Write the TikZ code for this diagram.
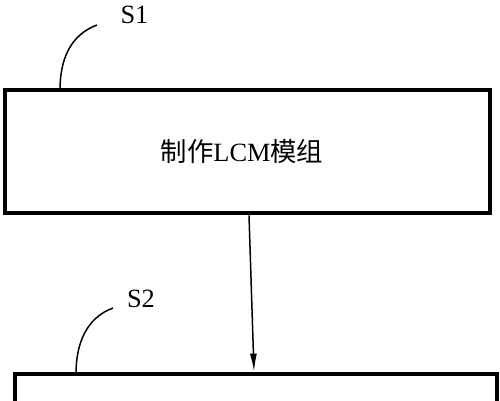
\documentclass[tikz,border=0pt]{standalone}
\usepackage{fontspec}
\setmainfont{Liberation Serif}
\newfontfamily\cjk{Noto Sans CJK SC}
\usetikzlibrary{shapes,calc,arrows.meta}

\begin{document}
\begin{tikzpicture}[scale=0.2]
	\tikzstyle{every node}+=[inner sep=0pt]
	\tikzstyle{stepbox}=[draw=black, line width=2.7pt, rectangle, font=\fontsize{15}{18}\selectfont]
	\tikzstyle{leader}=[black, line width=0.85pt]
	\tikzstyle{tag}=[font=\fontsize{15}{18}\selectfont]
	\useasboundingbox (0,0) rectangle (50,-40);
	\node [stepbox, minimum width=9.7cm, minimum height=2.46cm] (box1) at (24.75,-15.15) {\hspace{-0.22cm}\raisebox{-0.05cm}{{\cjk 制作}LCM{\cjk 模组}}};
	\node [stepbox, minimum width=9.64cm, minimum height=1.92cm] (box2) at (25.6,-42.2) {};
	\node [tag] (s1) at (13.45,-1.5) {S1};
	\node [tag] (s2) at (14.1,-29.9) {S2};
	\coordinate (t1) at (6,-9);
	\coordinate (e1) at (9.7,-2.5);
	\coordinate (t2) at (7.6,-37.4);
	\coordinate (e2) at (11.3,-30.8);
	\draw [leader] (t1) .. controls (6,-6) and (7,-3.5) .. (e1);
	\draw [leader] (t2) .. controls (7.6,-34.4) and (8.6,-31.8) .. (e2);
	\draw [leader, -{Latex[length=0.36cm,width=0.14cm]}] ($(box1.south)+(0.15,0)$) -- ($(box2.north)+(-0.2,0)$);
\end{tikzpicture}
\end{document}
